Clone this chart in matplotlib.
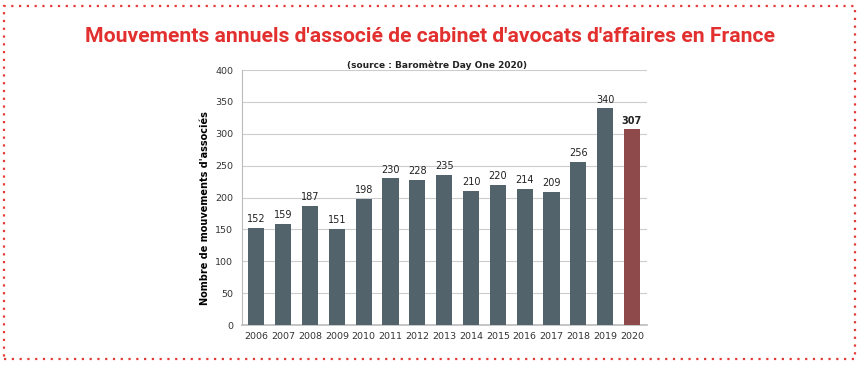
import matplotlib.pyplot as plt
from matplotlib.patches import Rectangle

years = ['2006', '2007', '2008', '2009', '2010', '2011', '2012', '2013',
         '2014', '2015', '2016', '2017', '2018', '2019', '2020']
moves = [152, 159, 187, 151, 198, 230, 228, 235, 210, 220, 214, 209, 256, 340, 307]
y_ticks = [0, 50, 100, 150, 200, 250, 300, 350, 400]

grey_bar = '#53636b'
red_bar = '#8e4a4b'
title_red = '#e2302f'

fig = plt.figure(figsize=(8.6, 3.69), dpi=100)
ax = fig.add_axes([0.281, 0.119, 0.471, 0.691])

colors = [grey_bar] * (len(years) - 1) + [red_bar]
x = range(len(years))
ax.bar(x, moves, width=0.6, color=colors, zorder=3)

for i, v in enumerate(moves):
    last = i == len(moves) - 1
    ax.text(i, v + 6, str(v), ha='center', va='bottom', fontsize=7,
            fontweight='bold' if last else 'normal', color='#222222')

ax.set_xlim(-0.55, len(years) - 0.45)
ax.set_ylim(0, 400)
ax.set_yticks(y_ticks)
ax.set_xticks(list(x))
ax.set_xticklabels(years)
ax.tick_params(axis='both', length=0, labelsize=6.8, colors='#333333')
ax.tick_params(axis='x', pad=5)
ax.tick_params(axis='y', pad=6)
ax.grid(axis='y', color='#cccccc', linewidth=0.8, zorder=0)
for s in ['top', 'right']:
    ax.spines[s].set_visible(False)
ax.spines['left'].set_color('#bbbbbb')
ax.spines['bottom'].set_color('#bbbbbb')
ax.spines['bottom'].set_linewidth(1.2)
ax.set_ylabel("Nombre de mouvements d'associés", fontsize=7, fontweight='bold')
ax.yaxis.set_label_coords(-0.079, 0.46)

fig.text(0.508, 0.822, '(source : Baromètre Day One 2020)', ha='center', va='center',
         fontsize=6.5, fontweight='bold', color='#222222')

fig.text(0.5, 0.90, "Mouvements annuels d'associé de cabinet d'avocats d'affaires en France",
         ha='center', va='center', fontsize=15.2, fontweight='bold', color=title_red,
         family=['Roboto', 'DejaVu Sans'])

border = Rectangle((0.005, 0.027), 0.989, 0.957, transform=fig.transFigure,
                   fill=False, edgecolor='#e53935', linestyle=(0, (1, 2.5)), linewidth=1.6)
fig.patches.append(border)

fig.savefig('out.png', dpi=100)
